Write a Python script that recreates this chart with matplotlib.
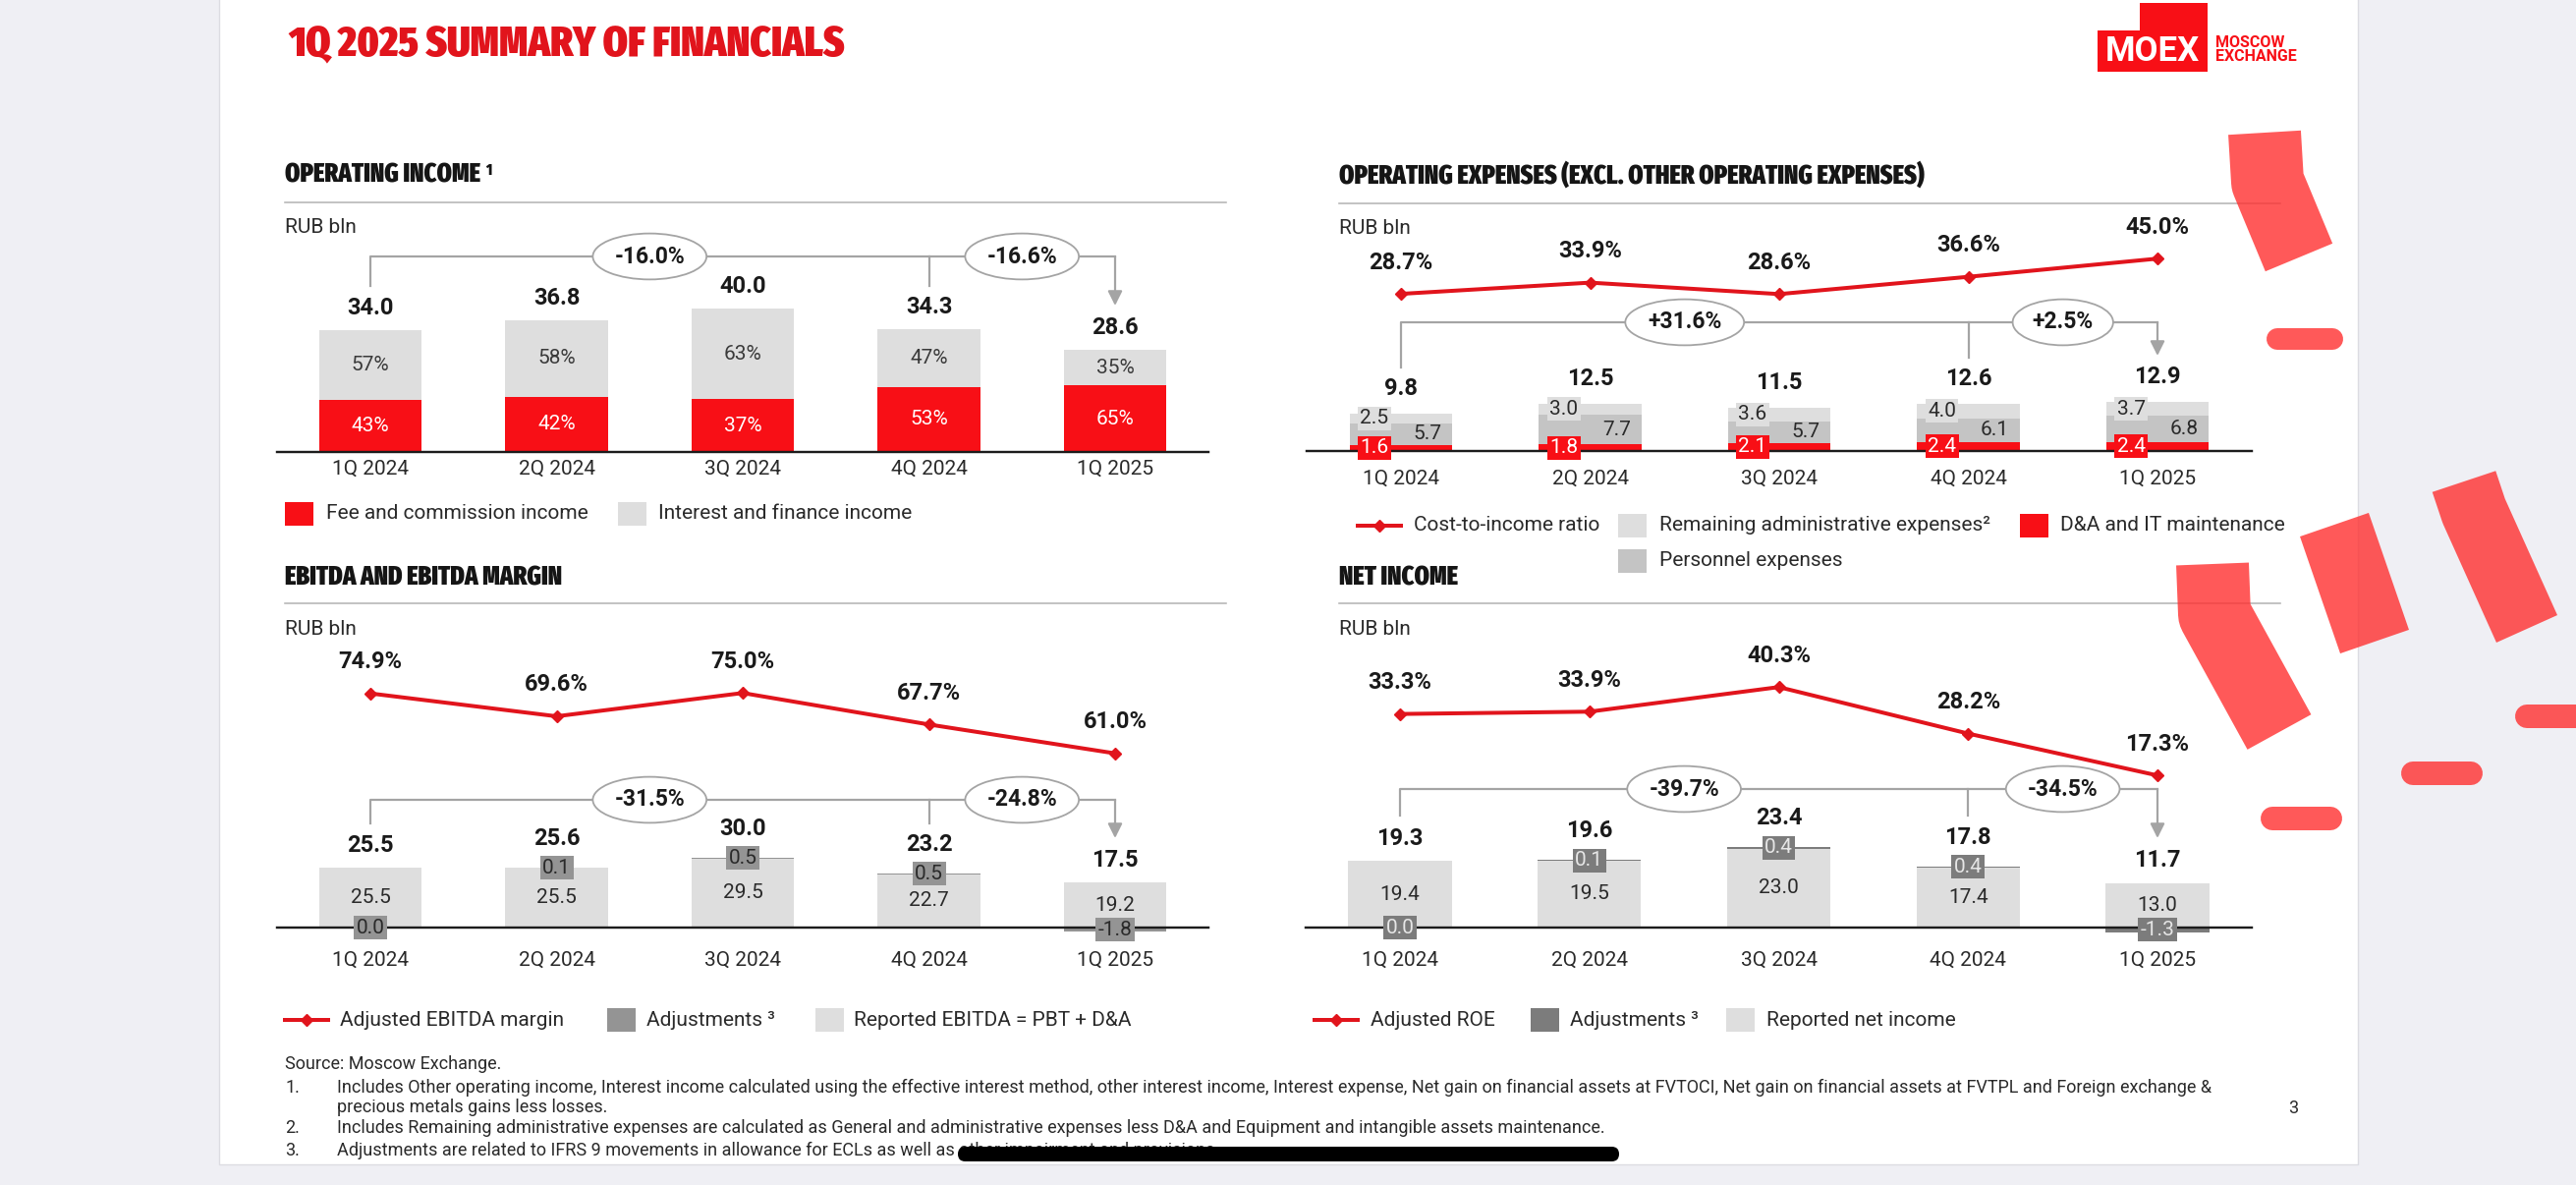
import os
import matplotlib
matplotlib.use('Agg')
import numpy as np
import matplotlib.pyplot as plt
from matplotlib import font_manager as fm
from matplotlib.patches import Rectangle, FancyBboxPatch

quarters = ['1Q 2024', '2Q 2024', '3Q 2024', '4Q 2024', '1Q 2025']

# operating income
opinc_total = [34.0, 36.8, 40.0, 34.3, 28.6]
opinc_fee_pct = [43, 42, 37, 53, 65]
opinc_int_pct = [57, 58, 63, 47, 35]
opinc_changes = ['-16.0%', '-16.6%']

# operating expenses
opex_total = [9.8, 12.5, 11.5, 12.6, 12.9]
opex_dna = [1.6, 1.8, 2.1, 2.4, 2.4]
opex_personnel = [5.7, 7.7, 5.7, 6.1, 6.8]
opex_admin = [2.5, 3.0, 3.6, 4.0, 3.7]
cost_income = [28.7, 33.9, 28.6, 36.6, 45.0]
opex_changes = ['+31.6%', '+2.5%']

# ebitda
ebitda_total = [25.5, 25.6, 30.0, 23.2, 17.5]
ebitda_reported = [25.5, 25.5, 29.5, 22.7, 19.2]
ebitda_adjust = [0.0, 0.1, 0.5, 0.5, -1.8]
ebitda_margin = [74.9, 69.6, 75.0, 67.7, 61.0]
ebitda_changes = ['-31.5%', '-24.8%']

# net income
ni_total = [19.3, 19.6, 23.4, 17.8, 11.7]
ni_reported = [19.4, 19.5, 23.0, 17.4, 13.0]
ni_adjust = [0.0, 0.1, 0.4, 0.4, -1.3]
roe = [33.3, 33.9, 40.3, 28.2, 17.3]
ni_changes = ['-39.7%', '-34.5%']

W, H, DPI = 2622, 1206, 100
PT = 72 / DPI

RED = '#f80f16'
LINE_RED = '#e1141c'
LIGHT = '#dedede'
MID = '#c4c4c4'
ADJ_EBITDA = '#949494'
ADJ_NI = '#7c7c7c'
GREY_LINE = '#a4a4a4'
TEXT = '#2a2a2a'
BG = '#efeff4'

plt.rcParams['font.family'] = ['Roboto', 'DejaVu Sans']


def heavy_condensed():
    # narrowest heavy sans face that is installed, for the slide headings
    best, best_score = None, -1
    for f in fm.fontManager.ttflist:
        key = (f.name + ' ' + os.path.basename(f.fname)).lower().replace(' ', '').replace('-', '')
        if 'extracondensed' in key:
            rank = 5
        elif 'ultracondensed' in key:
            rank = 4.5
        elif 'semicondensed' in key:
            rank = 2
        elif 'condensed' in key or 'narrow' in key or f.stretch == 'condensed':
            rank = 3.5
        else:
            continue
        if f.style != 'normal' or 'italic' in key or 'mono' in key:
            continue
        w = f.weight
        if isinstance(w, str):
            w = fm.weight_dict.get(w, 400)
        if w < 600:
            continue
        score = rank * 1000 + w
        if 'sans' in key:
            score += 200
        elif 'serif' in key:
            score -= 800
        if 'display' in key:
            score -= 50
        if score > best_score:
            best, best_score = f, score
    if best is None:
        return {'family': 'DejaVu Sans', 'weight': 'bold'}
    return {'fname': best.fname}


HEAVY = heavy_condensed()


def cond(size):
    fp = fm.FontProperties(**HEAVY)
    fp.set_size(size)
    return fp


fig = plt.figure(figsize=(W / DPI, H / DPI), dpi=DPI, facecolor=BG)
bg = fig.add_axes([0, 0, 1, 1], zorder=0)
bg.set_xlim(0, W)
bg.set_ylim(H, 0)
bg.axis('off')
bg.add_patch(Rectangle((223, -2), 2400 - 223, 1187, fc='white', ec='#dcdce2', lw=1))

top = fig.add_axes([0, 0, 1, 1], zorder=10)
top.set_xlim(0, W)
top.set_ylim(H, 0)
top.axis('off')
top.patch.set_visible(False)
renderer = fig.canvas.get_renderer()

# title and logo
bg.text(293, 57, '1Q 2025 SUMMARY OF FINANCIALS', fontproperties=cond(31.5), color=LINE_RED, va='baseline')
bg.add_patch(Rectangle((2135, 31), 112, 42, fc=RED, ec='none'))
bg.add_patch(Rectangle((2178, 3), 69, 30, fc=RED, ec='none'))
bg.text(2191, 53, 'MOEX', color='white', fontsize=25, fontweight='bold', ha='center', va='center')
bg.text(2255, 44, 'MOSCOW', color=RED, fontsize=11.5, fontweight='bold', va='center')
bg.text(2255, 58, 'EXCHANGE', color=RED, fontsize=11.5, fontweight='bold', va='center')

# section headings
headings = [(290, 186, 'OPERATING INCOME', '1'),
            (1363, 187, 'OPERATING EXPENSES (EXCL. OTHER OPERATING EXPENSES)', None),
            (290, 595, 'EBITDA AND EBITDA MARGIN', None),
            (1363, 595, 'NET INCOME', None)]
for hx, hy, s, sup in headings:
    t = bg.text(hx, hy, s, fontproperties=cond(19), color='#151515', va='baseline')
    if sup:
        ext = t.get_window_extent(renderer)
        bg.text(hx + ext.width + 5, hy - 21, sup, fontproperties=cond(11), color='#151515', va='top')
for sx, sy in [(290, 206), (1363, 207), (290, 614), (1363, 614)]:
    bg.plot([sx, sx + 958], [sy, sy], color='#b5b5b5', lw=1.6 * PT)
for rx, ry in [(290, 237), (1363, 238), (290, 646), (1363, 646)]:
    bg.text(rx, ry, 'RUB bln', fontsize=15, color=TEXT, va='baseline')


def chart_axes(x0, step, base, top_px, scale, pad):
    left = x0 - step / 2
    ax = fig.add_axes([left / W, 1 - base / H, 5 * step / W, (base - top_px) / H], zorder=2)
    ax.set_xlim(-0.5, 4.5)
    ax.set_ylim(0, (base - top_px) / scale)
    ax.patch.set_visible(False)
    for side in ('top', 'right', 'left'):
        ax.spines[side].set_visible(False)
    ax.spines['bottom'].set_color('#1c1c1c')
    ax.spines['bottom'].set_linewidth(2.4 * PT)
    ax.spines['bottom'].set_zorder(3)
    ax.set_yticks([])
    ax.set_xticks(range(len(quarters)), quarters)
    ax.tick_params(axis='x', length=0, pad=pad * PT, labelsize=15, labelcolor=TEXT)
    return ax


def bracket(ax, base, scale, labels, y_top, y_drop, y_mid, y_tip):
    v = lambda p: (base - p) / scale
    kw = dict(color=GREY_LINE, lw=2.2 * PT, clip_on=False, zorder=1)
    ax.plot([0, 0, 4], [v(y_drop), v(y_top), v(y_top)], **kw)
    ax.plot([3, 3], [v(y_top), v(y_mid)], **kw)
    ax.annotate('', xy=(4, v(y_tip)), xytext=(4, v(y_top)), annotation_clip=False,
                arrowprops=dict(arrowstyle='-|>', color=GREY_LINE, lw=2.2 * PT,
                                shrinkA=0, shrinkB=0, mutation_scale=22))
    for xb, s in zip([1.5, 3.5], labels):
        ax.text(xb, v(y_top), s, ha='center', va='center', fontsize=16.5, fontweight='bold',
                color='#1a1a1a', zorder=4,
                bbox=dict(boxstyle='ellipse,pad=0.22', fc='white', ec=GREY_LINE, lw=1.8 * PT))


def ratio_line(ax, values, ylim):
    tw = ax.twinx()
    tw.set_zorder(3)
    tw.set_ylim(*ylim)
    tw.axis('off')
    tw.plot(range(len(values)), values, color=LINE_RED, lw=4 * PT, marker='D', ms=6.5,
            clip_on=False, zorder=5)
    for i, val in enumerate(values):
        tw.annotate(f'{val:.1f}%', (i, val), xytext=(0, 32 * PT), textcoords='offset points',
                    ha='center', va='center', fontsize=17, fontweight='bold', color='#1a1a1a')


def total_label(ax, i, y, s, off):
    ax.annotate(s, (i, y), xytext=(0, off * PT), textcoords='offset points', ha='center',
                va='bottom', fontsize=17, fontweight='bold', color='#1a1a1a')


x = np.arange(len(quarters))

# operating income
ax1 = chart_axes(377, 189.5, 460, 240, 3.64, 8)
total = np.array(opinc_total)
fee = total * np.array(opinc_fee_pct) / 100
interest = total - fee
ax1.bar(x, fee, width=0.55, color=RED, zorder=2)
ax1.bar(x, interest, bottom=fee, width=0.55, color=LIGHT, zorder=2)
for i in x:
    ax1.text(i, fee[i] / 2, f'{opinc_fee_pct[i]}%', ha='center', va='center', color='white', fontsize=15)
    ax1.text(i, fee[i] + interest[i] / 2, f'{opinc_int_pct[i]}%', ha='center', va='center',
             color='#3a3a3a', fontsize=15)
    total_label(ax1, i, total[i], f'{total[i]:.1f}', 11)
bracket(ax1, 460, 3.64, opinc_changes, 261, 291, 291, 311)

# operating expenses
ax2 = chart_axes(1426, 192.5, 459, 230, 3.88, 19)
dna = np.array(opex_dna)
pers = np.array(opex_personnel)
adm = np.array(opex_admin)
ax2.bar(x, dna, width=0.545, color=RED, zorder=2)
ax2.bar(x, pers, bottom=dna, width=0.545, color=MID, zorder=2)
ax2.bar(x, adm, bottom=dna + pers, width=0.545, color=LIGHT, zorder=2)
for i in x:
    ax2.text(i - 0.14, dna[i] + pers[i] + adm[i] / 2, f'{adm[i]:.1f}', ha='center', va='center',
             fontsize=15, color=TEXT, zorder=4,
             bbox=dict(boxstyle='square,pad=0.12', fc=LIGHT, ec='none'))
    ax2.text(i - 0.14, dna[i] / 2, f'{dna[i]:.1f}', ha='center', va='center', fontsize=15,
             color='white', zorder=4, clip_on=False,
             bbox=dict(boxstyle='square,pad=0.12', fc=RED, ec='none'))
    ax2.text(i + 0.14, dna[i] + pers[i] / 2, f'{pers[i]:.1f}', ha='center', va='center',
             fontsize=15, color=TEXT, zorder=4)
    total_label(ax2, i, dna[i] + pers[i] + adm[i], f'{opex_total[i]:.1f}', 14)
bracket(ax2, 459, 3.88, opex_changes, 328, 374, 364, 362)
ratio_line(ax2, cost_income, (-44.0, 60.1))


def adjusted_chart(ax, reported, adjust, totals, adj_color, adj_text, width):
    rep = np.array(reported)
    adj = np.array(adjust)
    ax.bar(x, rep, width=width, color=LIGHT, zorder=2)
    ax.bar(x, np.clip(adj, 0, None), bottom=rep, width=width, color=adj_color, zorder=2)
    ax.bar(x, np.clip(adj, None, 0), width=width, color=adj_color, zorder=2, clip_on=False)
    for i in x:
        ax.text(i, rep[i] / 2, f'{rep[i]:.1f}', ha='center', va='center', fontsize=15, color=TEXT)
        ya = rep[i] + adj[i] / 2 if adj[i] > 0 else adj[i] / 2
        ax.text(i, ya, f'{adj[i]:.1f}', ha='center', va='center', fontsize=15, color=adj_text,
                zorder=4, clip_on=False,
                bbox=dict(boxstyle='square,pad=0.12', fc=adj_color, ec='none'))
        total_label(ax, i, rep[i] + max(adj[i], 0), f'{totals[i]:.1f}', 18 if adj[i] > 0 else 11)


# ebitda
ax3 = chart_axes(377, 189.5, 944, 650, 2.38, 24)
adjusted_chart(ax3, ebitda_reported, ebitda_adjust, ebitda_total, ADJ_EBITDA, '#2a2a2a', 0.549)
bracket(ax3, 944, 2.38, ebitda_changes, 814, 838, 838, 853)
ratio_line(ax3, ebitda_margin, (20.6, 87.6))

# net income
ax4 = chart_axes(1425, 192.75, 944, 650, 3.5, 24)
adjusted_chart(ax4, ni_reported, ni_adjust, ni_total, ADJ_NI, '#e6e6e6', 0.545)
bracket(ax4, 944, 3.5, ni_changes, 803, 830, 830, 853)
ratio_line(ax4, roe, (-22.3, 52.9))


# legends
def legend_box(lx, ly, color):
    bg.add_patch(Rectangle((lx, ly - 12), 29, 24, fc=color, ec='none'))


def legend_line(lx, ly):
    bg.plot([lx, lx + 44], [ly, ly], color=LINE_RED, lw=4 * PT)
    bg.plot([lx + 22], [ly], marker='D', ms=6.5, color=LINE_RED)


def legend_text(lx, ly, s):
    bg.text(lx, ly, s, fontsize=15, color=TEXT, va='center')


legend_box(290, 523, RED)
legend_text(332, 523, 'Fee and commission income')
legend_box(629, 523, LIGHT)
legend_text(670, 523, 'Interest and finance income')

legend_line(1382, 535)
legend_text(1439, 535, 'Cost-to-income ratio')
legend_box(1647, 535, LIGHT)
legend_text(1689, 535, 'Remaining administrative expenses\u00b2')
legend_box(2056, 535, RED)
legend_text(2097, 535, 'D&A and IT maintenance')
legend_box(1647, 571, MID)
legend_text(1689, 571, 'Personnel expenses')

legend_line(290, 1038)
legend_text(346, 1038, 'Adjusted EBITDA margin')
legend_box(618, 1038, ADJ_EBITDA)
legend_text(658, 1038, 'Adjustments \u00b3')
legend_box(830, 1038, LIGHT)
legend_text(869, 1038, 'Reported EBITDA = PBT + D&A')

legend_line(1338, 1038)
legend_text(1395, 1038, 'Adjusted ROE')
legend_box(1558, 1038, ADJ_NI)
legend_text(1598, 1038, 'Adjustments \u00b3')
legend_box(1757, 1038, LIGHT)
legend_text(1798, 1038, 'Reported net income')

# footnotes
notes = [
    (None, 'Source: Moscow Exchange.'),
    ('1.', 'Includes Other operating income, Interest income calculated using the effective interest '
           'method, other interest income, Interest expense, Net gain on financial assets at FVTOCI, '
           'Net gain on financial assets at FVTPL and Foreign exchange &'),
    (None, 'precious metals gains less losses.'),
    ('2.', 'Includes Remaining administrative expenses are calculated as General and administrative '
           'expenses less D&A and Equipment and intangible assets maintenance.'),
    ('3.', 'Adjustments are related to IFRS 9 movements in allowance for ECLs as well as other '
           'impairment and provisions.'),
]
for (num, s), ny in zip(notes, [1083, 1107, 1127, 1148, 1171]):
    if num:
        bg.text(290, ny, num, fontsize=13, color=TEXT, va='center')
    bg.text(290 if s.startswith('Source') else 343, ny, s, fontsize=13, color=TEXT, va='center')
bg.text(2329, 1128, '3', fontsize=13, color=TEXT, va='center')

# screenshot overlay: home indicator and marker strokes
top.add_patch(FancyBboxPatch((975, 1167), 673, 15, boxstyle='round,pad=0,rounding_size=7.5',
                             fc='black', ec='none'))
strokes = [([2305, 2308, 2340], [135, 185, 262], 74, 'butt'),
           ([2318, 2374], [345, 345], 22, 'round'),
           ([2508, 2518, 2572], [490, 520, 640], 68, 'butt'),
           ([2376, 2417], [534, 653], 74, 'butt'),
           ([2252, 2254, 2320], [574, 625, 745], 74, 'butt'),
           ([2572, 2640], [729, 729], 24, 'round'),
           ([2456, 2515], [787, 787], 24, 'round'),
           ([2313, 2372], [833, 833], 24, 'round')]
for sx, sy, lw, cap in strokes:
    top.plot(sx, sy, color='#ff3030', alpha=0.8, lw=lw * PT, solid_capstyle=cap,
             solid_joinstyle='round')

fig.savefig('out.png', dpi=DPI, facecolor=BG)
